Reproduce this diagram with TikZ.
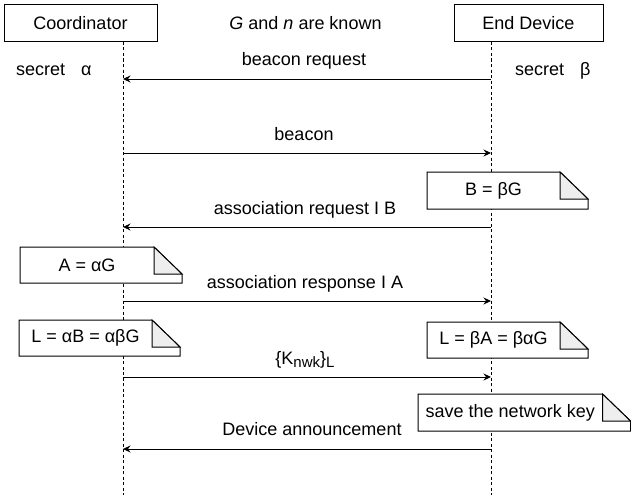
\documentclass[tikz,border=0pt]{standalone}
\usepackage{fontspec}
\setmainfont{Liberation Sans}
\usetikzlibrary{arrows.meta}
\definecolor{foldgray}{HTML}{EEEEEE}

% note with a folded top-right corner: name, x0, y0, x1, y1, text
\newcommand\notebox[6]{%
  \draw[notebody] (#2,#3) -- (#4-28,#3) -- (#4,#3+27) -- (#4,#5) -- (#2,#5) -- cycle;
  \draw[notefold] (#4-28,#3) -- (#4-28,#3+27) -- (#4,#3+27) -- cycle;
  \node[inner sep=0pt] (#1) at ({(#2+#4-28)/2},{(#3+#5)/2}) {#6};%
}

\begin{document}
\begin{tikzpicture}[x=1pt,y=-1pt,
  font=\fontsize{18}{21}\selectfont,
  actor/.style={draw, line width=1pt, inner sep=0pt,
    minimum width=#1, minimum height=37pt},
  lifeline/.style={line width=0.7pt, dash pattern=on 3pt off 2.5pt},
  msg/.style={line width=1pt, -{Stealth[length=7.5pt,width=7pt,inset=2.5pt]}},
  msglabel/.style={anchor=base, inner sep=0pt},
  notebody/.style={draw, fill=white, line width=1pt, line join=miter},
  notefold/.style={draw, fill=foldgray, line width=1pt, line join=miter}]

\useasboundingbox (0,0) rectangle (631,495);

% participants
\node[actor=153pt] (coord) at (80.5,23.5) {Coordinator};
\node[actor=149pt] (dev) at (528.5,23.5) {End Device};
\node (known) at (305.5,23) {\textit{G} and \textit{n} are known};

% lifelines
\coordinate (cTop) at (123,42);
\coordinate (cBot) at (123,495);
\coordinate (eTop) at (491,42);
\coordinate (eBot) at (491,495);
\draw[lifeline] (cTop) -- (cBot);
\draw[lifeline] (eTop) -- (eBot);

% secrets
\node[anchor=west, inner sep=0pt] (sa) at (16,70) {secret\hspace{16pt}α};
\node[anchor=west, inner sep=0pt] (sb) at (515,71) {secret\hspace{16pt}β};

% message anchors on the lifelines
\foreach \n/\y in {1/79, 2/153, 3/227, 4/301, 5/377, 6/449} {
  \coordinate (c\n) at (123,\y);
  \coordinate (e\n) at (491,\y);
}

% notes
\notebox{nb}{427}{172}{588}{209}{B = βG}
\notebox{na}{20}{247}{182}{283}{A = αG}
\notebox{nla}{19}{320}{180}{356}{L = αB = αβG}
\notebox{nlb}{427}{322}{588}{358}{L = βA = βαG}
\notebox{nsave}{418}{394}{630.5}{431}{save the network key}

% messages
\draw[msg] (e1) -- (c1);
\node[msglabel] (l1) at (304,66) {beacon request};
\draw[msg] (c2) -- (e2);
\node[msglabel] (l2) at (304,140) {beacon};
\draw[msg] (e3) -- (c3);
\node[msglabel] (l3) at (305,214) {association request I B};
\draw[msg] (c4) -- (e4);
\node[msglabel] (l4) at (305,288) {association response I A};
\draw[msg] (c5) -- (e5);
\node[msglabel] (l5) at (305,364)
  {\{K\raisebox{-3.5pt}{\fontsize{15}{15}\selectfont nwk}\}\raisebox{-3.5pt}{\fontsize{15}{15}\selectfont L}};
\draw[msg] (e6) -- (c6);
\node[msglabel] (l6) at (312,435) {Device announcement};

\end{tikzpicture}
\end{document}
